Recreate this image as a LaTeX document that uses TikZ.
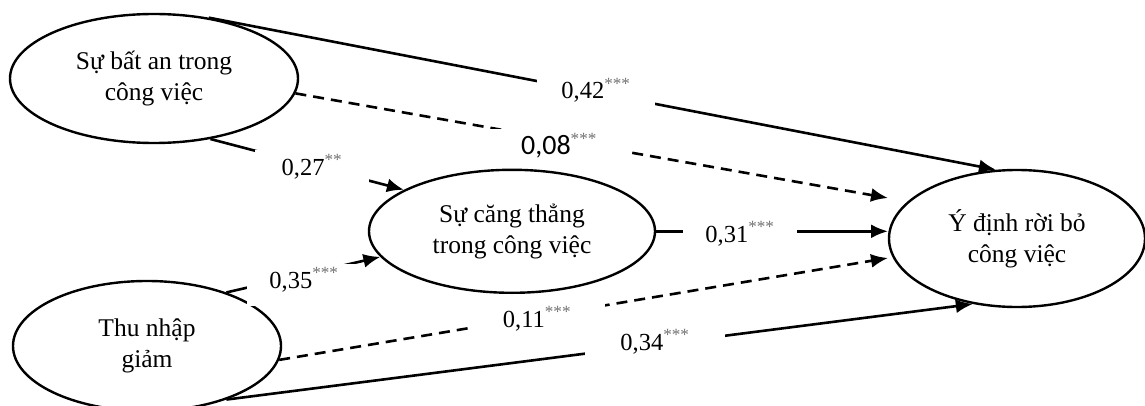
\documentclass[tikz,border=0pt]{standalone}
\usepackage{fontspec}
\setmainfont{Liberation Serif}
\newfontfamily\carlito{Carlito}
\usetikzlibrary{shapes.geometric,arrows.meta}
\tikzset{
  ell/.style={draw, ellipse, line width=2.4pt, inner sep=0pt, align=center, font=\fontsize{25.5}{31}\selectfont},
  conn/.style={line width=2.6pt, -{Latex[length=17pt,width=14pt]}},
  dsh/.style={conn, dash pattern=on 11pt off 7pt},
  lbl/.style={fill=white, anchor=base, inner ysep=4pt, font=\fontsize{24.5}{31}\selectfont},
}
\newcommand{\stars}[1]{\textsuperscript{\textcolor{black!55}{#1}}}
\begin{document}
\begin{tikzpicture}[x=1pt,y=1pt]
\useasboundingbox (0,0) rectangle (1145,405);
\node[ell, minimum width=288pt, minimum height=129pt] (A) at (154,326.5) {Sự bất an trong\\công việc};
\node[ell, minimum width=286pt, minimum height=123pt] (B) at (512,173.7) {Sự căng thẳng\\trong công việc};
\node[ell, minimum width=256pt, minimum height=137pt] (C) at (1017,166.5) {Ý định rời bỏ\\công việc};
\node[ell, minimum width=268pt, minimum height=130pt] (D) at (147,59) {Thu nhập\\giảm};
\coordinate (t1) at (888,207);
\coordinate (t3) at (888,147);
\draw[conn] (A.48) -- (C.107);
\draw[dsh] (A.-6) -- (t1);
\draw[conn] (A.-47) -- (B.159);
\draw[conn] (D.34) -- (B.191);
\draw[conn] (B.east) -- (B.east -| t1);
\draw[dsh] (D.-6) -- (t3);
\draw[conn] (D.-34) -- (C.236);
\node[lbl, inner xsep=24pt] (l1) at (596,306) {0,42\stars{***}};
\node[lbl, inner xsep=31pt, inner ysep=5pt] (l2) at (559,251) {{\carlito\fontsize{28}{31}\selectfont 0,08}\stars{***}};
\node[lbl, inner xsep=27pt, inner ysep=5pt] (l3) at (312,230) {0,27\stars{**}};
\node[lbl, inner xsep=22pt, text depth=14pt] (l4) at (304,117) {0,35\stars{***}};
\node[lbl, inner xsep=22pt] (l5) at (740,163) {0,31\stars{***}};
\node[lbl, inner xsep=34pt] (l6) at (537,78) {0,11\stars{***}};
\node[lbl, inner xsep=35pt] (l7) at (655,55) {0,34\stars{***}};
\end{tikzpicture}
\end{document}
